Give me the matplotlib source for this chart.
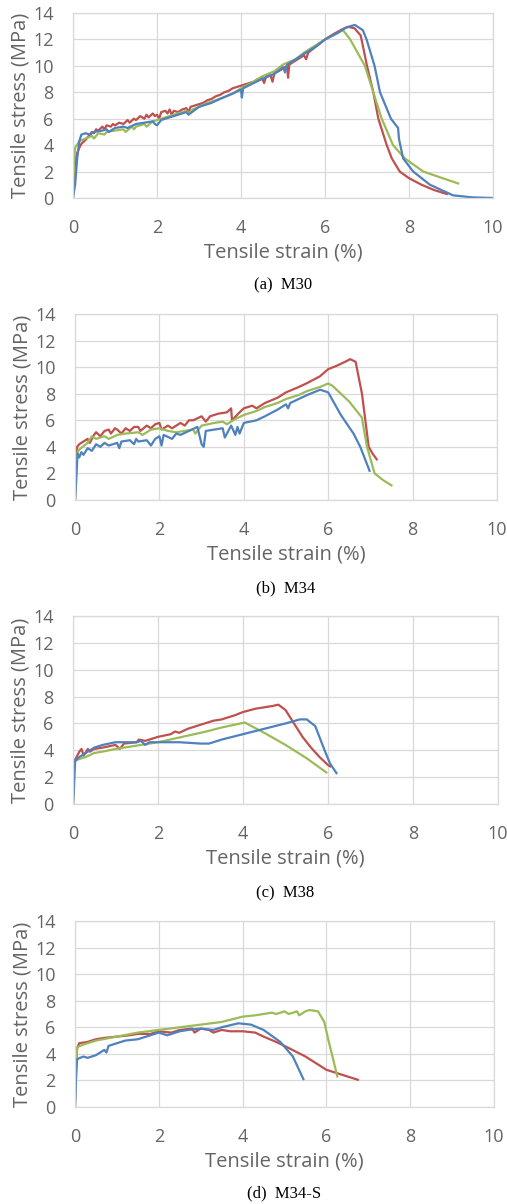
import matplotlib
matplotlib.use("Agg")
import matplotlib.pyplot as plt

# ---------------- data ----------------
x_ticks = [0, 2, 4, 6, 8, 10]
y_ticks = [0, 2, 4, 6, 8, 10, 12, 14]
captions = ["(a)  M30", "(b)  M34", "(c)  M38", "(d)  M34-S"]
x_label = "Tensile strain (%)"
y_label = "Tensile stress (MPa)"

# (a) M30
a_red_x = [0, 0.02, 0.05, 0.1, 0.15, 0.2, 0.3, 0.4, 0.45, 0.5, 0.55, 0.6, 0.7, 0.75, 0.8, 0.9, 0.95, 1.0, 1.1, 1.2, 1.3, 1.35, 1.45, 1.5, 1.6, 1.7, 1.75, 1.8, 1.9, 1.95, 2.0, 2.05, 2.1, 2.2, 2.25, 2.3, 2.35, 2.4, 2.5, 2.6, 2.7, 2.75, 2.8, 2.9, 3.0, 3.1, 3.2, 3.3, 3.4, 3.5, 3.6, 3.7, 3.8, 3.9, 4.0, 4.1, 4.2, 4.3, 4.4, 4.5, 4.55, 4.6, 4.7, 4.75, 4.8, 4.9, 5.0, 5.1, 5.12, 5.15, 5.3, 5.5, 5.55, 5.6, 5.8, 6.0, 6.2, 6.4, 6.55, 6.7, 6.85, 7.0, 7.15, 7.27, 7.47, 7.59, 7.78, 8.0, 8.3, 8.6, 8.9]
a_red_y = [0, 1.5, 2.8, 3.4, 3.8, 4.1, 4.4, 4.8, 5.0, 4.9, 5.2, 5.1, 5.4, 5.2, 5.5, 5.4, 5.6, 5.5, 5.7, 5.6, 5.9, 5.7, 6.0, 5.9, 6.2, 6.0, 6.3, 6.1, 6.4, 6.2, 6.3, 6.0, 6.5, 6.6, 6.4, 6.7, 6.3, 6.6, 6.5, 6.7, 6.8, 6.5, 6.9, 7.0, 7.1, 7.2, 7.4, 7.5, 7.7, 7.8, 8.0, 8.1, 8.3, 8.4, 8.5, 8.6, 8.7, 8.8, 9.0, 9.1, 8.7, 9.2, 9.3, 8.8, 9.5, 9.6, 9.8, 10.0, 9.1, 10.1, 10.4, 10.8, 10.5, 11.0, 11.5, 12.0, 12.4, 12.75, 12.95, 12.85, 12.3, 10.0, 8.0, 6.0, 4.0, 3.0, 2.0, 1.5, 1.0, 0.6, 0.3]
a_grn_x = [0, 0.02, 0.05, 0.15, 0.3, 0.45, 0.5, 0.6, 0.75, 0.8, 1.0, 1.2, 1.25, 1.4, 1.45, 1.5, 1.7, 1.75, 1.9, 2.0, 2.2, 2.5, 2.7, 2.75, 2.85, 3.0, 3.2, 3.5, 3.8, 4.0, 4.3, 4.5, 4.8, 5.0, 5.3, 5.5, 5.8, 6.0, 6.2, 6.43, 6.6, 6.95, 7.15, 7.35, 7.62, 7.9, 8.34, 8.8, 9.17]
a_grn_y = [0, 2.5, 3.8, 4.3, 4.5, 4.7, 4.5, 4.9, 4.8, 5.0, 5.1, 5.2, 5.0, 5.4, 5.2, 5.4, 5.6, 5.4, 5.8, 5.9, 6.1, 6.4, 6.6, 6.4, 6.7, 6.9, 7.2, 7.5, 7.9, 8.3, 8.8, 9.2, 9.6, 10.1, 10.5, 11.0, 11.6, 12.0, 12.3, 12.7, 12.0, 10.0, 8.0, 6.0, 4.0, 3.0, 2.0, 1.5, 1.1]
a_blu_x = [0, 0.05, 0.1, 0.15, 0.2, 0.3, 0.4, 0.5, 0.7, 0.8, 0.85, 1.0, 1.2, 1.3, 1.5, 1.7, 1.9, 1.95, 2.0, 2.1, 2.3, 2.5, 2.7, 2.75, 3.0, 3.3, 3.5, 3.8, 4.0, 4.02, 4.05, 4.3, 4.5, 4.8, 5.0, 5.05, 5.1, 5.3, 5.5, 5.8, 6.0, 6.3, 6.5, 6.71, 6.9, 6.99, 7.18, 7.31, 7.57, 7.74, 7.76, 7.86, 8.1, 8.5, 9.05, 9.5, 10.0]
a_blu_y = [0, 1.0, 3.0, 4.3, 4.8, 4.9, 4.8, 5.0, 5.1, 5.2, 5.0, 5.3, 5.4, 5.3, 5.6, 5.7, 5.8, 5.6, 5.5, 5.9, 6.1, 6.3, 6.5, 6.3, 6.9, 7.2, 7.5, 7.9, 8.2, 7.6, 8.3, 8.7, 9.0, 9.4, 9.9, 9.5, 10.1, 10.5, 10.9, 11.5, 12.0, 12.5, 12.9, 13.1, 12.7, 12.0, 10.0, 8.0, 6.0, 5.3, 4.5, 3.0, 2.0, 1.0, 0.2, 0.05, 0.0]

# (b) M34
b_red_x = [0, 0.03, 0.05, 0.1, 0.2, 0.3, 0.35, 0.45, 0.5, 0.6, 0.7, 0.8, 0.85, 0.95, 1.0, 1.1, 1.2, 1.3, 1.4, 1.5, 1.55, 1.7, 1.8, 1.9, 2.0, 2.05, 2.2, 2.3, 2.5, 2.6, 2.7, 2.8, 3.0, 3.1, 3.2, 3.4, 3.6, 3.7, 3.72, 3.9, 4.0, 4.2, 4.3, 4.5, 4.8, 5.0, 5.3, 5.5, 5.8, 6.0, 6.2, 6.4, 6.52, 6.65, 6.8, 6.88, 6.96, 7.05, 7.15]
b_red_y = [0, 3.5, 4.0, 4.2, 4.4, 4.6, 4.3, 4.9, 5.1, 4.8, 5.2, 5.3, 5.0, 5.4, 5.3, 5.0, 5.4, 5.2, 5.5, 5.5, 5.2, 5.6, 5.4, 5.7, 5.8, 5.3, 5.6, 5.4, 5.8, 5.6, 6.0, 6.0, 6.3, 5.9, 6.3, 6.5, 6.6, 6.9, 6.0, 6.6, 6.9, 7.1, 6.9, 7.3, 7.7, 8.1, 8.5, 8.8, 9.3, 9.85, 10.1, 10.4, 10.6, 10.4, 8.0, 6.0, 4.0, 3.5, 3.06]
b_grn_x = [0, 0.02, 0.05, 0.1, 0.3, 0.4, 0.5, 0.7, 0.8, 1.0, 1.2, 1.5, 1.6, 1.8, 2.0, 2.2, 2.4, 2.6, 2.8, 2.85, 3.0, 3.3, 3.5, 3.6, 3.8, 4.0, 4.3, 4.5, 4.8, 5.0, 5.3, 5.5, 5.8, 6.0, 6.1, 6.3, 6.5, 6.8, 6.83, 6.92, 7.1, 7.3, 7.5]
b_grn_y = [0, 3.0, 3.5, 3.8, 4.3, 4.8, 4.6, 4.8, 4.6, 4.9, 5.0, 5.1, 4.9, 5.3, 5.4, 5.2, 5.1, 5.2, 5.3, 5.0, 5.6, 5.8, 5.9, 5.7, 6.1, 6.4, 6.7, 7.0, 7.3, 7.6, 7.9, 8.2, 8.5, 8.77, 8.6, 8.0, 7.4, 6.2, 5.6, 4.0, 2.0, 1.5, 1.1]
b_blu_x = [0, 0.03, 0.06, 0.1, 0.15, 0.2, 0.3, 0.4, 0.5, 0.6, 0.7, 0.8, 1.0, 1.05, 1.1, 1.3, 1.4, 1.45, 1.5, 1.7, 1.8, 1.9, 2.0, 2.05, 2.1, 2.3, 2.4, 2.5, 2.7, 2.9, 3.0, 3.05, 3.1, 3.3, 3.5, 3.55, 3.6, 3.7, 3.8, 3.85, 3.9, 4.0, 4.3, 4.5, 4.8, 5.0, 5.05, 5.1, 5.3, 5.5, 5.81, 6.0, 6.3, 6.6, 6.76, 6.98]
b_blu_y = [0, 1.5, 3.5, 3.2, 3.6, 3.4, 3.9, 3.7, 4.2, 4.0, 4.3, 4.1, 4.3, 3.9, 4.4, 4.5, 4.2, 4.6, 4.4, 4.5, 4.1, 4.6, 4.8, 4.1, 4.9, 4.6, 5.0, 4.9, 5.2, 5.5, 4.2, 4.0, 5.2, 5.3, 5.4, 4.7, 5.0, 5.6, 4.9, 5.5, 5.0, 5.8, 6.0, 6.3, 6.8, 7.2, 6.9, 7.3, 7.6, 7.9, 8.3, 8.1, 6.4, 5.0, 4.0, 2.2]

# (c) M38
c_red_x = [0, 0.02, 0.05, 0.1, 0.15, 0.2, 0.25, 0.35, 0.4, 0.5, 0.7, 1.0, 1.1, 1.2, 1.5, 1.55, 1.7, 2.0, 2.3, 2.4, 2.5, 2.7, 3.0, 3.3, 3.5, 3.8, 4.0, 4.3, 4.5, 4.7, 4.83, 5.0, 5.2, 5.4, 5.6, 5.8, 6.0, 6.05]
c_red_y = [0, 3.0, 3.3, 3.6, 3.9, 4.1, 3.6, 4.1, 3.9, 4.1, 4.2, 4.4, 4.1, 4.5, 4.6, 4.8, 4.7, 5.0, 5.2, 5.4, 5.3, 5.6, 5.9, 6.2, 6.3, 6.6, 6.85, 7.1, 7.2, 7.3, 7.4, 7.0, 6.0, 5.0, 4.2, 3.5, 2.9, 2.8]
c_grn_x = [0, 0.02, 0.05, 0.1, 0.3, 0.5, 0.7, 1.0, 1.5, 2.0, 2.5, 3.0, 3.2, 3.5, 3.8, 4.04, 4.5, 5.0, 5.5, 5.96]
c_grn_y = [0, 2.8, 3.2, 3.3, 3.5, 3.8, 3.9, 4.1, 4.35, 4.6, 4.95, 5.3, 5.45, 5.7, 5.9, 6.07, 5.3, 4.4, 3.4, 2.35]
c_blu_x = [0, 0.02, 0.05, 0.15, 0.3, 0.5, 0.7, 1.0, 1.3, 1.5, 1.6, 1.7, 1.8, 2.0, 2.5, 3.0, 3.2, 3.5, 4.0, 4.5, 5.0, 5.34, 5.5, 5.7, 5.92, 6.05, 6.2]
c_blu_y = [0, 1.0, 3.2, 3.5, 3.8, 4.2, 4.4, 4.6, 4.6, 4.6, 4.7, 4.4, 4.6, 4.6, 4.6, 4.5, 4.5, 4.8, 5.2, 5.6, 6.0, 6.3, 6.3, 5.8, 4.0, 3.0, 2.3]

# (d) M34-S
d_red_x = [0, 0.02, 0.05, 0.1, 0.3, 0.5, 0.7, 1.0, 1.3, 1.5, 1.8, 2.0, 2.3, 2.5, 2.8, 2.85, 3.0, 3.2, 3.3, 3.5, 3.7, 4.0, 4.3, 4.5, 4.8, 5.0, 5.5, 6.0, 6.5, 6.75]
d_red_y = [0, 3.0, 4.4, 4.8, 4.9, 5.1, 5.2, 5.3, 5.4, 5.5, 5.5, 5.7, 5.6, 5.8, 5.9, 5.6, 5.9, 5.8, 5.6, 5.8, 5.7, 5.7, 5.6, 5.3, 4.9, 4.6, 3.8, 2.8, 2.3, 2.05]
d_grn_x = [0, 0.01, 0.05, 0.2, 0.5, 1.0, 1.5, 2.0, 2.5, 3.0, 3.5, 4.0, 4.3, 4.5, 4.7, 4.8, 5.0, 5.1, 5.3, 5.35, 5.5, 5.6, 5.8, 5.95, 6.05, 6.13, 6.26]
d_grn_y = [0, 2.0, 4.5, 4.7, 5.0, 5.3, 5.6, 5.8, 6.0, 6.2, 6.4, 6.8, 6.9, 7.0, 7.1, 7.0, 7.2, 7.0, 7.2, 6.9, 7.2, 7.3, 7.2, 6.4, 5.0, 4.0, 2.3]
d_blu_x = [0, 0.02, 0.05, 0.2, 0.3, 0.5, 0.7, 0.75, 0.8, 1.0, 1.2, 1.5, 1.7, 2.0, 2.2, 2.5, 2.7, 3.0, 3.3, 3.5, 3.9, 4.2, 4.5, 4.9, 5.2, 5.45]
d_blu_y = [0, 1.8, 3.6, 3.8, 3.7, 3.9, 4.3, 4.1, 4.6, 4.8, 5.0, 5.1, 5.3, 5.6, 5.4, 5.7, 5.8, 5.9, 5.8, 6.0, 6.3, 6.2, 5.8, 4.9, 3.8, 2.1]

RED, GREEN, BLUE = "#C0504D", "#9BBB59", "#4F81BD"
GRID = "#D9D9D9"
TXT = "#646464"

panels = [
    ((a_red_x, a_red_y), (a_grn_x, a_grn_y), (a_blu_x, a_blu_y)),
    ((b_red_x, b_red_y), (b_grn_x, b_grn_y), (b_blu_x, b_blu_y)),
    ((c_red_x, c_red_y), (c_grn_x, c_grn_y), (c_blu_x, c_blu_y)),
    ((d_red_x, d_red_y), (d_grn_x, d_grn_y), (d_blu_x, d_blu_y)),
]
# axes boxes in pixels: (left, right, top, bottom)
boxes = [(73, 493, 13, 198), (75, 497, 314, 500), (73, 498, 616, 804), (75, 494, 921, 1107)]
cap_y = [285, 588, 893, 1193]

W, H = 507, 1204
fig = plt.figure(figsize=(W / 100, H / 100), dpi=100)
fig.patch.set_facecolor("white")

for (curves, box, cy, cap) in zip(panels, boxes, cap_y, captions):
    l, r, t, b = box
    ax = fig.add_axes([l / W, 1 - b / H, (r - l) / W, (b - t) / H])
    for (xs, ys), col in zip(curves, [RED, GREEN, BLUE]):
        ax.plot(xs, ys, color=col, lw=1.6, solid_joinstyle="round")
    ax.set_xlim(0, 10)
    ax.set_ylim(0, 14)
    ax.set_xticks(x_ticks)
    ax.set_yticks(y_ticks)
    ax.grid(True, color=GRID, lw=0.9)
    ax.set_axisbelow(True)
    for s in ax.spines.values():
        s.set_color(GRID)
        s.set_linewidth(0.9)
    ax.tick_params(length=0, labelsize=13, labelcolor=TXT)
    ax.tick_params(axis="x", pad=15)
    ax.tick_params(axis="y", pad=14)
    for lab in ax.get_xticklabels() + ax.get_yticklabels():
        lab.set_fontfamily("Open Sans")
    ax.set_xlabel(x_label, fontsize=14.5, color=TXT, family="Open Sans", labelpad=4)
    ax.set_ylabel(y_label, fontsize=14.5, color=TXT, family="Open Sans", labelpad=2)
    fig.text((l + r) / 2 / W, 1 - cy / H, cap, ha="center", va="center",
             fontsize=12, family="Liberation Serif", color="black")

fig.savefig("out.png", dpi=100, facecolor="white")
